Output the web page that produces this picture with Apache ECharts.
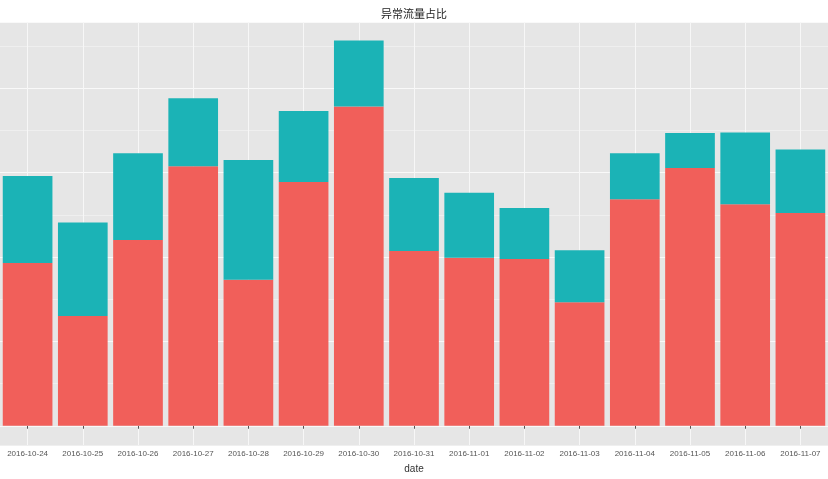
<!DOCTYPE html>
<html>
	<head>
		<meta charset="utf-8">
		<script src="https://cdn.jsdelivr.net/npm/echarts@6/dist/echarts.min.js"></script>
		<title>异常流量占比</title>
		<style>
			html, body { margin: 0; padding: 0; background: #fff; }
		</style>
	</head>
	<body>
		<div id="main" style="width: 828px;height:479px;"></div>
		<script type="text/javascript">
			// 日期
			var dates = ['2016-10-24', '2016-10-25', '2016-10-26', '2016-10-27', '2016-10-28',
				'2016-10-29', '2016-10-30', '2016-10-31', '2016-11-01', '2016-11-02',
				'2016-11-03', '2016-11-04', '2016-11-05', '2016-11-06', '2016-11-07'];
			// 红色部分（下层）
			var normalPart = [38.6, 26.0, 44.0, 61.5, 34.6, 57.8, 75.7, 41.4, 39.8, 39.5, 29.3, 53.7, 61.1, 52.5, 50.4];
			// 青色部分（上层）
			var abnormalPart = [20.6, 22.2, 20.6, 16.1, 28.4, 16.8, 15.6, 17.3, 15.4, 12.1, 12.3, 10.9, 8.3, 17.0, 15.1];
			// y 轴范围（ggplot 默认两端扩展 5%）
			var yMin = -4.56;
			var yMax = 95.7;

			var myChart = echarts.init(document.getElementById('main'));

			var option = {
				animation: false,
				title: {
					text: '异常流量占比',
					left: 'center',
					top: 3,
					textStyle: {
						fontSize: 11,
						fontWeight: 'normal',
						color: '#222',
						fontFamily: 'Noto Sans CJK SC'
					}
				},
				grid: {
					left: 0,
					right: 0,
					top: 22,
					bottom: 33,
					show: true,
					borderWidth: 0,
					backgroundColor: '#e6e6e6'
				},
				xAxis: {
					type: 'category',
					data: dates,
					z: 0,
					name: 'date',
					nameLocation: 'middle',
					nameGap: 19,
					nameTextStyle: { fontSize: 10, color: '#333', fontFamily: 'Liberation Sans' },
					axisLine: { show: false },
					axisTick: { show: true, alignWithLabel: true, length: 3, lineStyle: { color: '#555' } },
					axisLabel: { fontSize: 8, color: '#555', margin: 5, interval: 0, fontFamily: 'Liberation Sans' },
					splitLine: { show: true, alignWithLabel: true, lineStyle: { color: '#f7f7f7', width: 1 } }
				},
				yAxis: {
					type: 'value',
					z: 0,
					min: yMin,
					max: yMax,
					splitNumber: 10,
					axisLine: { show: false },
					axisTick: { show: false },
					axisLabel: { show: false },
					// 颜色交替：次网格线（10, 30, ...）较暗，主网格线（0, 20, ...）较亮
					splitLine: { show: true, lineStyle: { color: ['#efefef', '#f9f9f9'], width: 1 } }
				},
				series: [{
					name: 'normal',
					type: 'bar',
					stack: 'total',
					z: 5,
					barCategoryGap: '10%',
					itemStyle: { color: '#f15f5a' },
					data: normalPart
				}, {
					name: 'abnormal',
					type: 'bar',
					stack: 'total',
					z: 5,
					barCategoryGap: '10%',
					itemStyle: { color: '#1bb3b6' },
					data: abnormalPart
				}]
			};

			myChart.setOption(option);
		</script>
	</body>
</html>
